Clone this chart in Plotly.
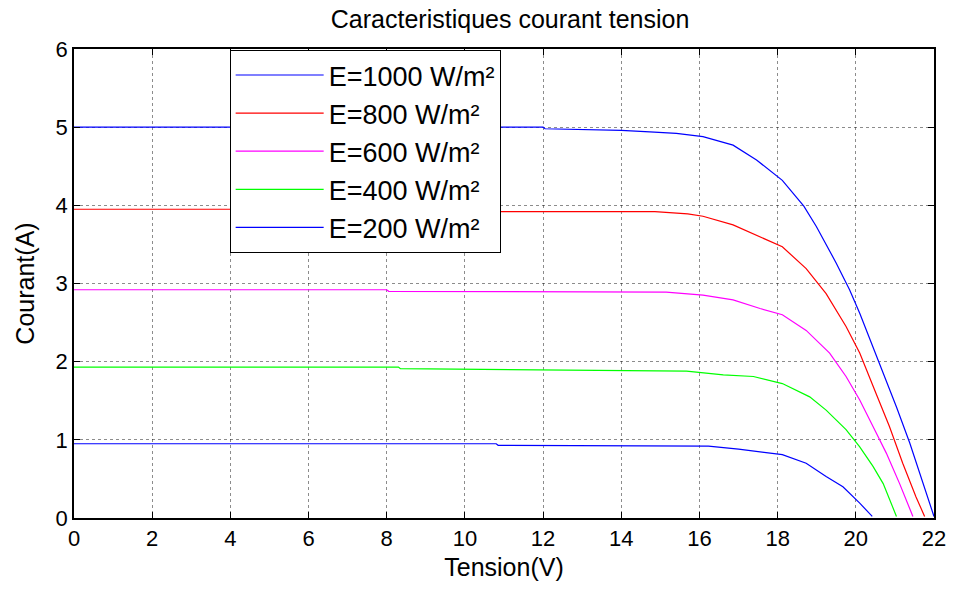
import plotly.graph_objects as go

labels = ["E=1000 W/m²", "E=800 W/m²", "E=600 W/m²", "E=400 W/m²", "E=200 W/m²"]
colors = ["#0000ff", "#ff0000", "#ff00ff", "#00ff00", "#0000ff"]

v1000 = [0, 12.0, 12.05, 14.0, 14.73, 15.41, 16.09, 16.86, 17.46, 18.12, 18.67, 18.99, 19.50, 19.84, 20.10, 20.61, 21.04, 21.38, 21.72, 22.0]
i1000 = [5.00, 5.00, 4.98, 4.96, 4.94, 4.92, 4.88, 4.77, 4.58, 4.32, 3.99, 3.73, 3.26, 2.92, 2.62, 1.98, 1.42, 0.96, 0.44, 0.02]

v800 = [0, 8.0, 8.05, 14.86, 15.7, 16.09, 16.86, 17.55, 18.12, 18.73, 19.24, 19.75, 20.10, 20.52, 20.86, 21.20, 21.54, 21.76]
i800 = [3.95, 3.95, 3.92, 3.92, 3.89, 3.86, 3.75, 3.60, 3.47, 3.19, 2.87, 2.45, 2.11, 1.59, 1.17, 0.70, 0.27, 0.02]

v600 = [0, 8.0, 8.05, 15.15, 16.09, 16.86, 17.55, 18.12, 18.73, 19.33, 19.75, 20.10, 20.44, 20.78, 21.12, 21.46]
i600 = [2.92, 2.92, 2.90, 2.89, 2.85, 2.79, 2.68, 2.60, 2.40, 2.11, 1.81, 1.51, 1.17, 0.83, 0.44, 0.02]

v400 = [0, 8.3, 8.35, 15.67, 16.61, 17.38, 18.12, 18.82, 19.24, 19.75, 20.10, 20.44, 20.70, 21.04]
i400 = [1.93, 1.93, 1.91, 1.88, 1.83, 1.81, 1.72, 1.55, 1.38, 1.13, 0.91, 0.66, 0.44, 0.02]

v200 = [0, 10.8, 10.85, 16.23, 17.0, 17.55, 18.12, 18.73, 19.24, 19.67, 20.10, 20.42]
i200 = [0.95, 0.95, 0.93, 0.92, 0.88, 0.85, 0.81, 0.70, 0.53, 0.40, 0.19, 0.02]

xs = [v1000, v800, v600, v400, v200]
ys = [i1000, i800, i600, i400, i200]

FONT = "Liberation Sans, Arial, sans-serif"

fig = go.Figure()
for k in range(5):
    fig.add_trace(go.Scatter(x=xs[k], y=ys[k], mode="lines", name=labels[k],
                             legendgroup="g%d" % k,
                             line=dict(color=colors[k], width=1.2)))

axis_common = dict(
    showline=True, linecolor="black", linewidth=1.5, mirror="allticks",
    ticks="inside", ticklen=6, tickcolor="black", tickwidth=1,
    showgrid=True, gridcolor="rgba(0,0,0,0.45)", griddash="dot", gridwidth=1,
    zeroline=False,
    tickfont=dict(family=FONT, size=22, color="black"),
)

fig.update_layout(
    width=957, height=592,
    margin=dict(l=74, r=23, t=49, b=74),
    paper_bgcolor="white", plot_bgcolor="white",
    title=dict(text="Caracteristiques courant tension", x=0.533, xanchor="center",
               y=0.968, yanchor="middle",
               font=dict(family=FONT, size=25, color="black")),
    xaxis=dict(range=[0, 22], dtick=2, tick0=0,
               title=dict(text="Tension(V)", standoff=8,
                          font=dict(family=FONT, size=25, color="black")),
               **axis_common),
    yaxis=dict(range=[0, 6], dtick=1, tick0=0,
               title=dict(text="Courant(A)", standoff=14,
                          font=dict(family=FONT, size=25, color="black")),
               **axis_common),
    legend=dict(x=0.181, y=0.998, xanchor="left", yanchor="top",
                bgcolor="white", bordercolor="black", borderwidth=1,
                font=dict(family=FONT, size=27, color="black"),
                itemwidth=88, traceorder="grouped", tracegroupgap=0),
    showlegend=True,
)

fig.write_html("out.html", post_script="document.body.style.margin='0';",
               config={"displayModeBar": False})
